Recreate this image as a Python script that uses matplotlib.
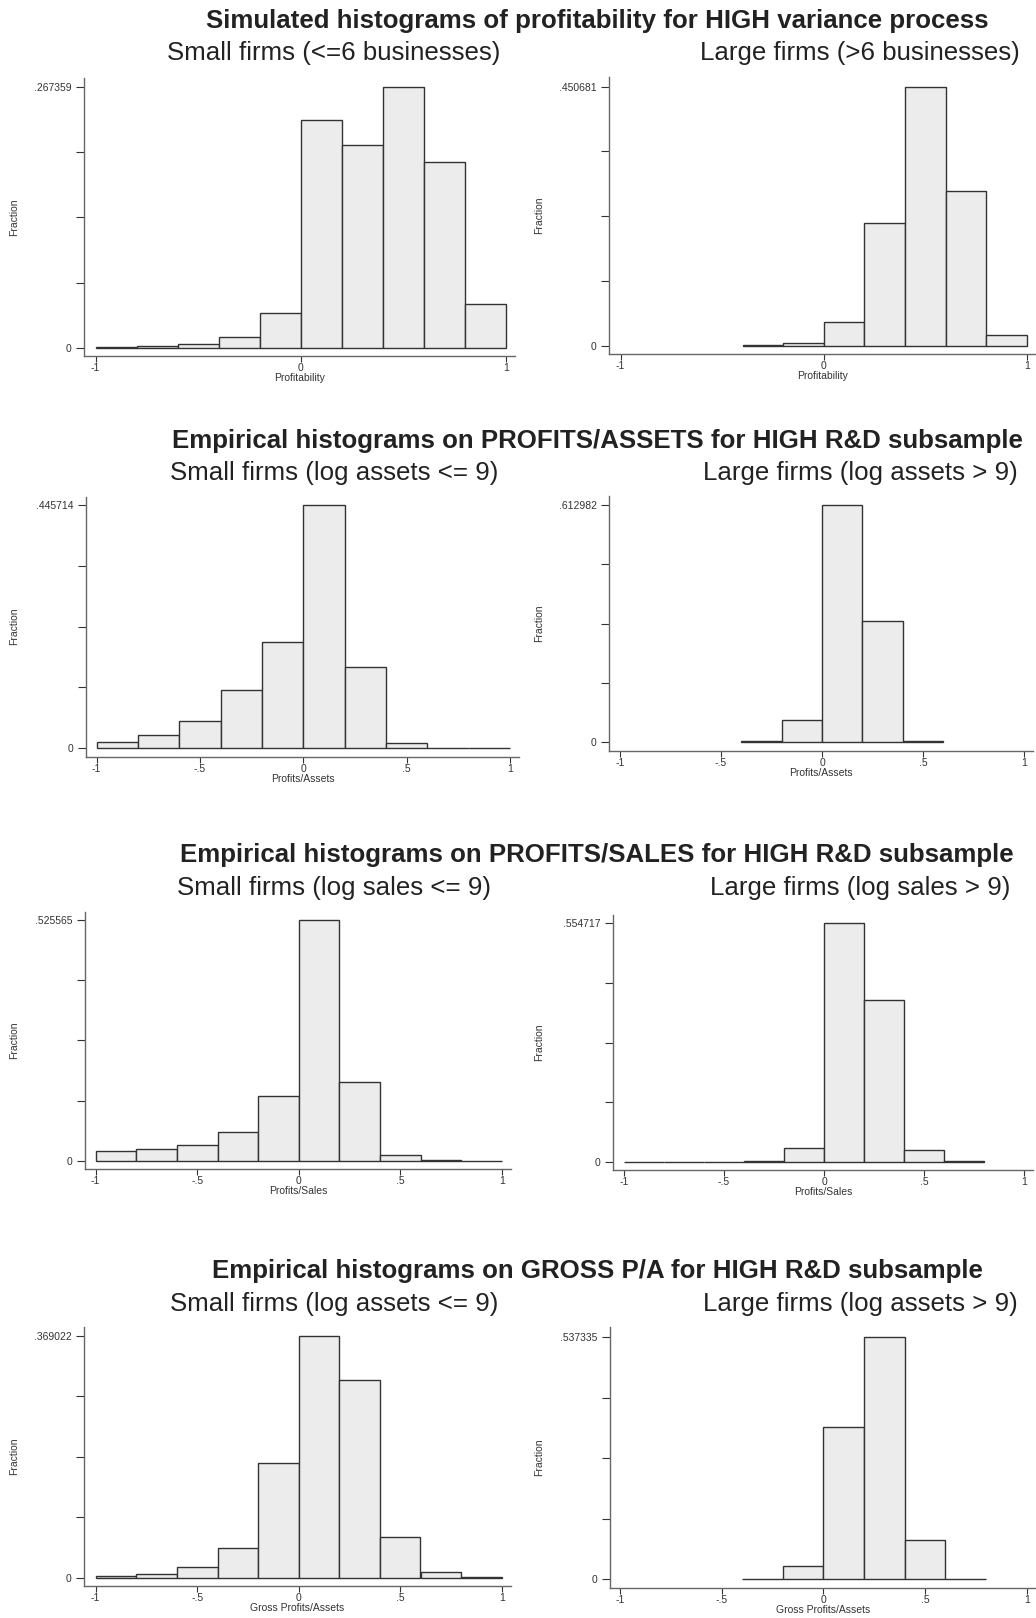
import numpy as np
import matplotlib
matplotlib.use("Agg")
import matplotlib.pyplot as plt

plt.rcParams['font.family'] = ['Liberation Sans', 'DejaVu Sans']

# bin edges shared by every histogram (width .2 from -1 to 1)
edges = np.linspace(-1, 1, 11)

# fraction of firms per bin, nan = bin outside the data range (not drawn)
sim_small = [0.0010, 0.0020, 0.0040, 0.0119, 0.0357, 0.2329, 0.2081, 0.267359, 0.1900, 0.0450]
sim_large = [np.nan, np.nan, np.nan, 0.0006, 0.0052, 0.0418, 0.2135, 0.450681, 0.2697, 0.0186]
pa_small = [0.0110, 0.0238, 0.0507, 0.1068, 0.1942, 0.445714, 0.1496, 0.0104, 0.0012, 0.0003]
pa_large = [np.nan, np.nan, np.nan, 0.0034, 0.0568, 0.612982, 0.3142, 0.0034, np.nan, np.nan]
ps_small = [0.0211, 0.0255, 0.0335, 0.0619, 0.1405, 0.525565, 0.1725, 0.0131, 0.0007, 0.0003]
ps_large = [0.0, 0.0, 0.0, 0.0023, 0.0310, 0.554717, 0.3771, 0.0272, 0.0016, np.nan]
gpa_small = [0.0025, 0.0061, 0.0168, 0.0453, 0.1751, 0.369022, 0.3023, 0.0621, 0.0087, 0.0010]
gpa_large = [np.nan, np.nan, np.nan, 0.0015, 0.0288, 0.3370, 0.537335, 0.0865, 0.0015, np.nan]

row_titles = [
    'Simulated histograms of profitability for HIGH variance process',
    'Empirical histograms on PROFITS/ASSETS for HIGH R&D subsample',
    'Empirical histograms on PROFITS/SALES for HIGH R&D subsample',
    'Empirical histograms on GROSS P/A for HIGH R&D subsample',
]
sub_titles = [
    ('Small firms (<=6 businesses)', 'Large firms (>6 businesses)'),
    ('Small firms (log assets <= 9)', 'Large firms (log assets > 9)'),
    ('Small firms (log sales <= 9)', 'Large firms (log sales > 9)'),
    ('Small firms (log assets <= 9)', 'Large firms (log assets > 9)'),
]
x_labels = ['Profitability', 'Profits/Assets', 'Profits/Sales', 'Gross Profits/Assets']
panels = [(sim_small, sim_large), (pa_small, pa_large),
          (ps_small, ps_large), (gpa_small, gpa_large)]

W, H = 1036, 1618
# pixel layout of each panel: y-axis x, x=-1, x=1, ymax, y=0, x-axis y, top of y-axis
layout = [
    [(84.0, 95.7, 506.0, 86.7, 348.3, 355.7, 78.0), (609.3, 620.7, 1026.7, 86.7, 345.7, 354.0, 76.7)],
    [(86.0, 96.7, 510.0, 505.0, 748.3, 756.7, 496.7), (609.3, 620.0, 1024.0, 505.0, 742.3, 751.0, 496.0)],
    [(85.0, 95.7, 502.0, 920.0, 1160.7, 1169.3, 911.7), (612.7, 624.0, 1024.0, 923.3, 1161.7, 1170.0, 915.0)],
    [(84.3, 95.7, 501.7, 1336.0, 1577.7, 1586.0, 1327.3), (610.0, 620.0, 1026.7, 1337.0, 1579.3, 1587.7, 1327.3)],
]
title_y = [21, 441, 855.5, 1271]
sub_y = [53, 473, 887.5, 1303.5]

fig = plt.figure(figsize=(W / 100, H / 100), dpi=100)
fig.patch.set_facecolor('white')

for r in range(4):
    fig.text(597 / W, 1 - title_y[r] / H, row_titles[r], ha='center', va='center',
             fontsize=18.6, fontweight='bold', color='#222222')
    for c in range(2):
        fig.text((334 if c == 0 else 860) / W, 1 - sub_y[r] / H, sub_titles[r][c],
                 ha='center', va='center', fontsize=18.6, color='#222222')

        ax_x, xm1, xp1, ytop, yzero, xaxis, ysp = layout[r][c]
        xr = xp1 + 9
        sx = (xp1 - xm1) / 2.0
        ax = fig.add_axes([ax_x / W, 1 - xaxis / H, (xr - ax_x) / W, (xaxis - ysp) / H])

        vals = np.array(panels[r][c], dtype=float)
        ymax = np.nanmax(vals)
        sy = ymax / (yzero - ytop)
        ax.set_xlim(-1 - (xm1 - ax_x) / sx, 1 + (xr - xp1) / sx)
        ax.set_ylim(-(xaxis - yzero) * sy, ymax + (ytop - ysp) * sy)

        ok = ~np.isnan(vals)
        ax.bar(edges[:-1][ok], vals[ok], width=0.2, align='edge',
               facecolor='#ececec', edgecolor='#333333', linewidth=1.0)

        for s in ['top', 'right']:
            ax.spines[s].set_visible(False)
        for s in ['left', 'bottom']:
            ax.spines[s].set_color('#666666')
            ax.spines[s].set_linewidth(1.0)

        yt = np.linspace(0, ymax, 5)
        ax.set_yticks(yt)
        ax.set_yticklabels(['0', '', '', '', '{:.6f}'.format(ymax).lstrip('0')])
        if r == 0:
            xt = [-1, 0, 1]
            xtl = ['-1', '0', '1']
        else:
            xt = [-1, -0.5, 0, 0.5, 1]
            xtl = ['-1', '-.5', '0', '.5', '1']
        ax.set_xticks(xt)
        ax.set_xticklabels(xtl)
        ax.tick_params(axis='both', labelsize=7.5, colors='#333333', length=6,
                       width=0.8, pad=3)
        ax.tick_params(axis='x', length=4, pad=1)
        ax.set_xlabel(x_labels[r], fontsize=7.5, color='#333333', labelpad=0)
        ax.set_ylabel('Fraction', fontsize=7.5, color='#333333')
        ax.yaxis.set_label_coords(((19 if c == 0 else 544.5) - ax_x) / (xr - ax_x), 0.5)
        ax.patch.set_visible(False)

fig.savefig('out.png', dpi=100, facecolor='white')
